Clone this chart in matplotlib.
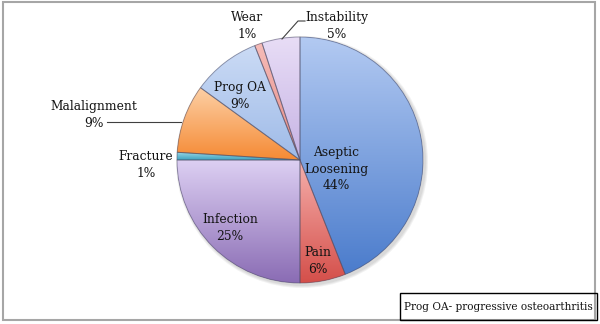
import numpy as np
import matplotlib
matplotlib.use("Agg")
import matplotlib.pyplot as plt
from matplotlib.patches import Rectangle, PathPatch
from matplotlib.colors import to_rgb

# Reasons for revision (percent of cases), clockwise from 12 o'clock
categories = ["Aseptic\nLoosening", "Pain", "Infection", "Fracture",
              "Malalignment", "Prog OA", "Wear", "Instability"]
shares = [44, 6, 25, 1, 9, 9, 1, 5]
footnote = "Prog OA- progressive osteoarthritis"

# light (top) / deep (bottom) shade for each slice
shade_top = ["#b3caf2", "#f6b0ac", "#ddd0f3", "#9bd6e6",
             "#fdd0a6", "#cbdbf5", "#f6bcb8", "#e8ddf6"]
shade_bottom = ["#4b7ccc", "#d44f4a", "#8a6cb4", "#3ea3bf",
                "#f58a34", "#9fbbe8", "#e58a84", "#c6b3e4"]

# label anchor points in pixel space (x right, y down)
label_px = [(336, 169), (318, 261), (230, 228), (146, 165),
            (94, 115), (240, 96), (247, 26), (337, 26)]

W, H = 600, 324
fig = plt.figure(figsize=(6, 3.24), dpi=100)
ax = fig.add_axes([0, 0, 1, 1])

cx, cy, rad = 300, H - 160, 123
wedges, _ = ax.pie(shares, center=(cx, cy), radius=rad, startangle=90,
                   counterclock=False,
                   colors=shade_bottom,
                   wedgeprops=dict(linewidth=0))
ax.set_aspect("auto")
ax.axis("off")

# soft drop shadow behind the disc
for k, a in enumerate([0.05, 0.05, 0.05]):
    ax.add_patch(plt.Circle((cx + 2, cy - 2), rad + 1 + k, color="#000000",
                            alpha=a, zorder=0.5, lw=0))

# vertical shading inside each slice, clipped to the slice outline
for w, top, bot in zip(wedges, shade_top, shade_bottom):
    w.set_zorder(1)
    path = w.get_path()
    verts = path.vertices
    x0, x1 = verts[:, 0].min(), verts[:, 0].max()
    y0, y1 = verts[:, 1].min(), verts[:, 1].max()
    t = np.linspace(0, 1, 128)[:, None]
    c_top, c_bot = np.array(to_rgb(top)), np.array(to_rgb(bot))
    grad = c_bot[None, :] * (1 - t) + c_top[None, :] * t
    img = ax.imshow(grad[:, None, :], extent=(x0, x1, y0, y1), origin="lower",
                    aspect="auto", interpolation="bilinear", zorder=1.5)
    img.set_clip_path(w)
    ax.add_patch(PathPatch(path, fill=False,
                           edgecolor=(0.3, 0.3, 0.4, 0.5), lw=0.7, zorder=2))

ax.set_xlim(0, W)
ax.set_ylim(0, H)

# slice labels
font = dict(family="DejaVu Serif", fontsize=8.8, color="#141414",
            ha="center", va="center", linespacing=1.35, zorder=5)
for name, val, (px, py) in zip(categories, shares, label_px):
    ax.text(px, H - py, f"{name}\n{val}%", **font)

# leader lines for the outside labels
ax.plot([107, 181], [H - 122, H - 122], color="#404040", lw=0.8, zorder=4)
ax.plot([282, 298, 305], [H - 39, H - 21, H - 21], color="#404040", lw=0.8,
        zorder=4)

# footnote box
ax.add_patch(Rectangle((400, H - 320), 197, 27, fill=False,
                       edgecolor="#000000", lw=1.0, zorder=5))
ax.text(498.5, H - 306.5, footnote, family="DejaVu Serif", fontsize=7.6,
        color="#141414", ha="center", va="center", zorder=6)

# outer chart frame
ax.add_patch(Rectangle((3, H - 320), 592, 318, fill=False,
                       edgecolor="#a6a6a6", lw=1.5, zorder=4))

fig.savefig("out.png", dpi=100)
